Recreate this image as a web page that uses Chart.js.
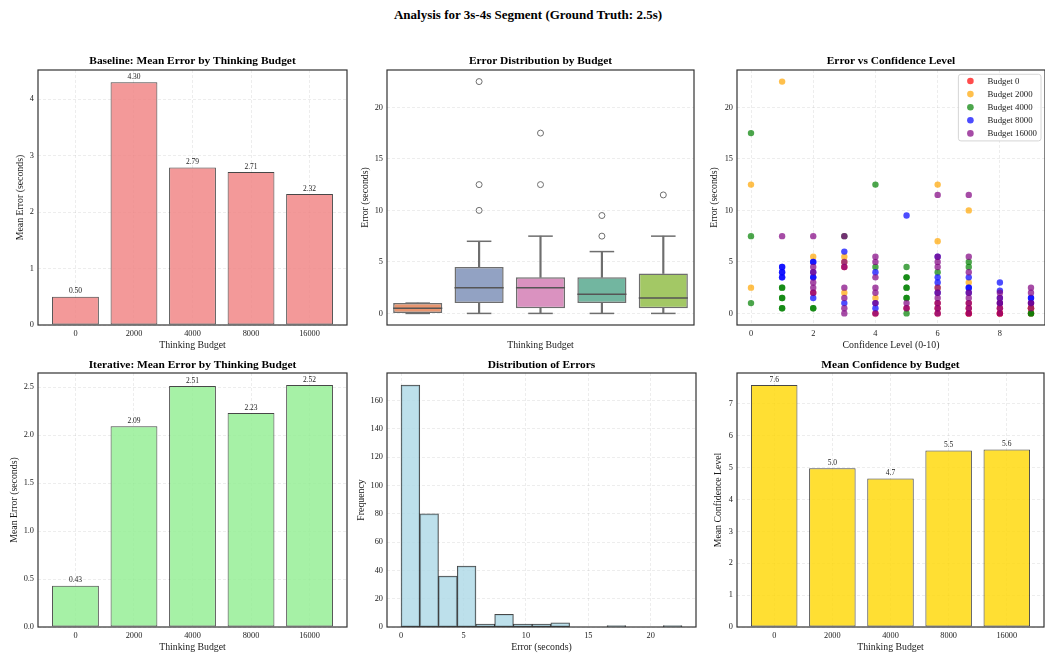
<!DOCTYPE html>
<html>
<head>
<meta charset="utf-8">
<title>Analysis for 3s-4s Segment</title>
<script src="https://cdn.jsdelivr.net/npm/chart.js@4.4.1/dist/chart.umd.min.js"></script>
<style>
  html, body { margin: 0; padding: 0; background: #fff; overflow: hidden; }
  #figure { position: relative; width: 1045px; height: 658px; overflow: hidden; background: #fff; }
  #figure canvas { position: absolute; }
  #suptitle {
    position: absolute; left: 0; width: 1056px; top: 7px; line-height: 17px;
    text-align: center; color: #000;
    font: bold 13px "Liberation Serif", "Times New Roman", Times, serif;
  }
</style>
</head>
<body>
<div id="figure"><div id="suptitle">Analysis for 3s-4s Segment (Ground Truth: 2.5s)</div></div>
<script>
// ---------- data ----------
const budgets = ['0', '2000', '4000', '8000', '16000'];

const baselineMeanError = [0.50, 4.30, 2.79, 2.71, 2.32];
const iterativeMeanError = [0.43, 2.09, 2.51, 2.23, 2.52];
const meanConfidence = [7.59, 4.98, 4.66, 5.54, 5.57];

// box plot summaries per budget
const boxWhiskerLow  = [0, 0, 0, 0, 0];
const boxQ1          = [0, 1.0, 0.5, 1.0, 0.5];
const boxMedian      = [0.5, 2.5, 2.5, 1.85, 1.5];
const boxQ3          = [1.0, 4.5, 3.5, 3.5, 3.875];
const boxWhiskerHigh = [1.0, 7.0, 7.5, 6.0, 7.5];
const boxOutliers    = [[], [10.0, 12.5, 22.5], [12.5, 17.5], [7.5, 9.5], [11.5]];

// histogram of all errors
const histBinEdges = [0, 1.5, 3, 4.5, 6, 7.5, 9, 10.5, 12, 13.5, 15, 16.5, 18, 19.5, 21, 22.5];
const histCounts   = [171, 80, 36, 43, 2, 9, 2, 2, 3, 0, 0, 1, 0, 0, 1];

// [confidence, error] pairs per budget
const scatterBudget0 = [[7,0],[7,0.5],[7,1.0],[8,0],[8,0.5],[8,1.0],[9,0],[9,0.5],[9,1.0],
  [6,0],[6,0.5],[6,1.0],[8,0],[7,0],[9,0.5],[4,0],[5,0.5],[3,4.5],[2,2.0]];
const scatterBudget2000 = [[0,12.5],[0,2.5],[1,22.5],[2,5.5],[3,5.5],[3,2.0],[4,1.5],[6,12.5],
  [6,7.0],[7,10.0],[7,3.0],[9,0.5],[3,5.0],[6,2.5]];
const scatterBudget4000 = [[0,17.5],[0,7.5],[0,1.0],[1,2.5],[1,2.5],[1,1.5],[1,1.5],[1,0.5],[1,0.5],
  [2,0.5],[2,0.5],[3,7.5],[4,12.5],[4,4.5],[5,4.5],[5,3.5],[5,3.5],[5,2.5],[5,2.5],[5,1.5],[5,1.5],
  [5,0],[6,4.0],[7,5.0],[7,4.5],[9,0],[9,0]];
const scatterBudget8000 = [[1,4.5],[1,4.5],[1,4.0],[1,4.0],[1,3.5],[1,3.5],[2,5.0],[2,5.0],[2,4.0],
  [2,3.5],[2,3.5],[2,1.5],[3,6.0],[3,1.0],[4,4.0],[4,1.0],[4,0.5],[5,9.5],[6,5.5],[6,3.5],[6,3.0],
  [6,2.0],[7,3.5],[7,2.5],[7,2.5],[7,2.0],[8,3.0],[8,2.2],[8,1.5],[8,1.0],[9,1.5],[9,1.0],[9,1.5]];
const scatterBudget16000 = [[1,7.5],[2,7.5],[2,4.5],[2,4.0],[2,3.0],[2,2.5],[2,2.0],[3,7.5],[3,5.0],
  [3,4.5],[3,2.5],[3,1.5],[3,0.5],[3,0],[4,5.5],[4,5.0],[4,3.5],[4,2.5],[4,2.0],[4,1.0],[4,0],
  [5,1.0],[5,0.5],[6,11.5],[6,5.5],[6,5.0],[6,4.5],[6,2.5],[6,2.0],[6,1.5],[6,1.0],[6,0.5],[6,0],
  [7,11.5],[7,5.5],[7,4.0],[7,2.0],[7,1.5],[7,1.0],[7,0.5],[7,0],[8,2.0],[8,1.5],[8,1.0],[8,0.5],
  [8,0],[9,2.5],[9,2.0],[9,1.0],[9,0.5]];

// ---------- styling ----------
const FONT_FAMILY = '"Liberation Serif", "Times New Roman", Times, serif';
const TEXT = '#1a1a1a';
const TICK_FONT = { family: FONT_FAMILY, size: 8.3 };
const LABEL_FONT = { family: FONT_FAMILY, size: 9.8 };
const TITLE_FONT = { family: FONT_FAMILY, size: 11.4, weight: 'bold' };
const LABEL_LH = LABEL_FONT.size * 1.2;
const TITLE_LH = TITLE_FONT.size * 1.2;
const GRID = 'rgba(150,150,150,0.22)';
const BOX_FILLS = ['#e9956f', '#92a2c3', '#da92c0', '#72b6a0', '#a3c865'];
const BOX_EDGE = '#6e6e6e';
const MEDIAN_EDGE = '#555555';
const SCATTER_COLORS = ['rgba(255,0,0,0.7)', 'rgba(255,165,0,0.7)', 'rgba(0,128,0,0.7)',
  'rgba(0,0,255,0.7)', 'rgba(128,0,128,0.7)'];

Chart.defaults.font.family = FONT_FAMILY;
Chart.defaults.color = TEXT;

// ---------- plugins ----------
const spines = {
  id: 'spines',
  afterDraw(chart) {
    const { ctx, chartArea: a } = chart;
    ctx.save();
    ctx.strokeStyle = '#333';
    ctx.lineWidth = 1.2;
    ctx.strokeRect(a.left, a.top, a.right - a.left, a.bottom - a.top);
    ctx.restore();
  }
};

const valueLabels = {
  id: 'valueLabels',
  afterDatasetsDraw(chart, args, opts) {
    if (!opts || typeof opts.format !== 'function') return;
    const meta = chart.getDatasetMeta(0);
    const values = chart.data.datasets[0].data;
    const ctx = chart.ctx;
    ctx.save();
    ctx.font = `${opts.size || 7}px ${FONT_FAMILY}`;
    ctx.fillStyle = TEXT;
    ctx.textAlign = 'center';
    ctx.textBaseline = 'bottom';
    meta.data.forEach((bar, i) => {
      ctx.fillText(opts.format(values[i].y), bar.x, bar.y - 1.5);
    });
    ctx.restore();
  }
};

const cornerLegend = {
  id: 'cornerLegend',
  afterDraw(chart) {
    const { ctx, chartArea: a } = chart;
    const sets = chart.data.datasets;
    ctx.save();
    ctx.font = `8.8px ${FONT_FAMILY}`;
    const maxW = Math.max(...sets.map(d => ctx.measureText(d.label).width));
    const rowH = 13.1;
    const right = a.right - 4, top = a.top + 4.3;
    const w = 29 + maxW + 4, h = 6.7 + rowH * (sets.length - 1) + 7.5;
    const left = right - w;
    ctx.beginPath();
    if (ctx.roundRect) ctx.roundRect(left, top, w, h, 2.5); else ctx.rect(left, top, w, h);
    ctx.fillStyle = 'rgba(255,255,255,0.8)';
    ctx.fill();
    ctx.strokeStyle = '#cccccc';
    ctx.lineWidth = 0.8;
    ctx.stroke();
    ctx.textAlign = 'left';
    ctx.textBaseline = 'middle';
    sets.forEach((d, i) => {
      const y = top + 6.7 + rowH * i;
      ctx.beginPath();
      ctx.arc(left + 12, y, 3.3, 0, Math.PI * 2);
      ctx.fillStyle = d.backgroundColor;
      ctx.fill();
      ctx.fillStyle = TEXT;
      ctx.fillText(d.label, left + 29, y + 0.5);
    });
    ctx.restore();
  }
};

// ---------- helpers ----------
const fig = document.getElementById('figure');

function gridOpts(show) {
  return { display: show, color: GRID, lineWidth: 0.8, drawTicks: false, offset: false };
}
function borderOpts() {
  return { display: false, dash: [3, 2] };
}
function linearAxis(min, max, step, callback, showGrid = true) {
  return {
    type: 'linear', min, max, offset: false,
    grid: gridOpts(showGrid), border: borderOpts(),
    ticks: { stepSize: step, includeBounds: false, font: TICK_FONT, color: TEXT,
             padding: 4, maxRotation: 0, autoSkip: false, callback }
  };
}
const budgetTick = v => (Number.isInteger(v) && budgets[v] !== undefined) ? budgets[v] : '';

function addPanel(p) {
  const cl = p.area.l - 38;
  const ct = p.area.t - 22;
  const cr = p.area.r + 2;
  const cb = Math.ceil(p.xTitleY + LABEL_LH / 2);
  const canvas = document.createElement('canvas');
  canvas.width = cr - cl;
  canvas.height = cb - ct;
  canvas.style.left = cl + 'px';
  canvas.style.top = ct + 'px';
  fig.appendChild(canvas);

  const titlePadTop = p.titleY - ct - TITLE_LH / 2;
  const titlePadBottom = (p.area.t - ct) - titlePadTop - TITLE_LH;
  const xAxisH = cb - p.area.b;
  const yAxisW = p.area.l - cl;

  p.x.afterFit = s => { s.height = xAxisH; };
  p.y.afterFit = s => { s.width = yAxisW; };
  p.x.title = { display: true, text: p.xTitle, font: LABEL_FONT, color: TEXT,
                padding: { top: 0, bottom: cb - p.xTitleY - LABEL_LH / 2 } };
  p.y.title = { display: true, text: p.yTitle, font: LABEL_FONT, color: TEXT,
                padding: { top: p.yTitleX - cl - LABEL_LH / 2, bottom: 0 } };

  return new Chart(canvas, {
    type: p.type,
    data: { datasets: p.datasets },
    options: {
      responsive: false,
      animation: false,
      events: [],
      layout: { padding: { left: 0, top: 0, bottom: 0, right: cr - p.area.r }, autoPadding: false },
      scales: { x: p.x, y: p.y },
      plugins: {
        legend: { display: false },
        tooltip: { enabled: false },
        title: { display: true, text: p.title, font: TITLE_FONT, color: '#000', fullSize: false,
                 padding: { top: titlePadTop, bottom: titlePadBottom } },
        valueLabels: p.valueLabels || {}
      }
    },
    plugins: [spines, valueLabels].concat(p.extraPlugins || [])
  });
}

function meanBars(values, fill) {
  return [{
    type: 'bar',
    data: values.map((v, i) => ({ x: i, y: v })),
    backgroundColor: fill,
    borderColor: 'rgba(0,0,0,0.72)',
    borderWidth: 1,
    borderSkipped: false,
    barPercentage: 0.8,
    categoryPercentage: 1
  }];
}

// box width fraction (in category units) converted to pixels
function boxHalf(ctx, frac) {
  const s = ctx.chart.scales.x;
  const r = s ? s.getPixelForValue(frac) - s.getPixelForValue(0) : NaN;
  return isFinite(r) && r > 0 ? r : 1;
}

// ---------- panel 1: baseline mean error ----------
addPanel({
  area: { l: 38, t: 70, r: 347, b: 325 }, titleY: 61, yTitleX: 20, xTitleY: 345,
  title: 'Baseline: Mean Error by Thinking Budget',
  xTitle: 'Thinking Budget', yTitle: 'Mean Error (seconds)',
  type: 'bar',
  datasets: meanBars(baselineMeanError, 'rgba(240,128,128,0.8)'),
  x: linearAxis(-0.64, 4.64, 1, budgetTick),
  y: linearAxis(0, 4.515, 1, v => String(v)),
  valueLabels: { format: v => v.toFixed(2), size: 7.5 }
});

// ---------- panel 2: error distribution (box plot) ----------
const boxDatasets = [
  { // medians
    type: 'scatter',
    data: budgets.map((_, i) => ({ x: i, y: boxMedian[i] })),
    pointStyle: 'line',
    pointRadius: ctx => boxHalf(ctx, 0.4),
    pointBorderColor: MEDIAN_EDGE,
    pointBorderWidth: 1.5
  },
  { // boxes
    type: 'bar',
    data: budgets.map((_, i) => ({ x: i, y: [boxQ1[i], boxQ3[i]] })),
    backgroundColor: BOX_FILLS,
    borderColor: BOX_EDGE,
    borderWidth: 1.5,
    borderSkipped: false,
    barPercentage: 0.8,
    categoryPercentage: 1,
    grouped: false
  },
  { // lower whiskers
    type: 'bar',
    data: budgets.map((_, i) => ({ x: i, y: [boxWhiskerLow[i], boxQ1[i]] })),
    backgroundColor: BOX_EDGE,
    borderWidth: 0,
    barThickness: 1.5,
    grouped: false
  },
  { // upper whiskers
    type: 'bar',
    data: budgets.map((_, i) => ({ x: i, y: [boxQ3[i], boxWhiskerHigh[i]] })),
    backgroundColor: BOX_EDGE,
    borderWidth: 0,
    barThickness: 1.5,
    grouped: false
  },
  { // whisker caps
    type: 'scatter',
    data: budgets.map((_, i) => ({ x: i, y: boxWhiskerLow[i] }))
      .concat(budgets.map((_, i) => ({ x: i, y: boxWhiskerHigh[i] }))),
    pointStyle: 'line',
    pointRadius: ctx => boxHalf(ctx, 0.2),
    pointBorderColor: BOX_EDGE,
    pointBorderWidth: 1.5
  },
  { // outliers
    type: 'scatter',
    data: boxOutliers.flatMap((list, i) => list.map(v => ({ x: i, y: v }))),
    pointStyle: 'circle',
    pointRadius: 3,
    pointBackgroundColor: 'rgba(255,255,255,0)',
    pointBorderColor: BOX_EDGE,
    pointBorderWidth: 1
  }
];
addPanel({
  area: { l: 387, t: 70, r: 696, b: 325 }, titleY: 61, yTitleX: 365, xTitleY: 345,
  title: 'Error Distribution by Budget',
  xTitle: 'Thinking Budget', yTitle: 'Error (seconds)',
  type: 'bar',
  datasets: boxDatasets,
  x: linearAxis(-0.5, 4.5, 1, budgetTick, false),
  y: linearAxis(-1.125, 23.625, 5, v => String(v))
});

// ---------- panel 3: error vs confidence ----------
// later budgets are painted over earlier ones
const scatterSeries = [scatterBudget0, scatterBudget2000, scatterBudget4000, scatterBudget8000, scatterBudget16000];
addPanel({
  area: { l: 737, t: 70, r: 1045, b: 325 }, titleY: 61, yTitleX: 714, xTitleY: 345,
  title: 'Error vs Confidence Level',
  xTitle: 'Confidence Level (0-10)', yTitle: 'Error (seconds)',
  type: 'scatter',
  datasets: scatterSeries.map((pts, k) => ({
    type: 'scatter',
    label: 'Budget ' + budgets[k],
    order: scatterSeries.length - k,
    data: pts.map(([c, e]) => ({ x: c, y: e })),
    backgroundColor: SCATTER_COLORS[k],
    pointBackgroundColor: SCATTER_COLORS[k],
    pointBorderWidth: 0,
    pointRadius: 3.2
  })),
  x: linearAxis(-0.45, 9.45, 2, v => String(v)),
  y: linearAxis(-1.125, 23.625, 5, v => String(v)),
  extraPlugins: [cornerLegend]
});

// ---------- panel 4: iterative mean error ----------
addPanel({
  area: { l: 38, t: 373, r: 347, b: 627 }, titleY: 365, yTitleX: 14, xTitleY: 647,
  title: 'Iterative: Mean Error by Thinking Budget',
  xTitle: 'Thinking Budget', yTitle: 'Mean Error (seconds)',
  type: 'bar',
  datasets: meanBars(iterativeMeanError, 'rgba(144,238,144,0.8)'),
  x: linearAxis(-0.64, 4.64, 1, budgetTick),
  y: linearAxis(0, 2.646, 0.5, v => v.toFixed(1)),
  valueLabels: { format: v => v.toFixed(2), size: 7.5 }
});

// ---------- panel 5: histogram of errors ----------
addPanel({
  area: { l: 387, t: 373, r: 696, b: 627 }, titleY: 365, yTitleX: 361, xTitleY: 647,
  title: 'Distribution of Errors',
  xTitle: 'Error (seconds)', yTitle: 'Frequency',
  type: 'bar',
  datasets: [{
    type: 'bar',
    data: histCounts.map((c, i) => ({ x: (histBinEdges[i] + histBinEdges[i + 1]) / 2, y: c })),
    backgroundColor: 'rgba(173,216,230,0.8)',
    borderColor: 'rgba(0,0,0,0.72)',
    borderWidth: 1,
    borderSkipped: false,
    barPercentage: 1,
    categoryPercentage: 1
  }],
  x: linearAxis(-1.125, 23.625, 5, v => String(v)),
  y: linearAxis(0, 179.55, 20, v => String(v))
});

// ---------- panel 6: mean confidence ----------
addPanel({
  area: { l: 737, t: 373, r: 1044, b: 627 }, titleY: 365, yTitleX: 718, xTitleY: 647,
  title: 'Mean Confidence by Budget',
  xTitle: 'Thinking Budget', yTitle: 'Mean Confidence Level',
  type: 'bar',
  datasets: meanBars(meanConfidence, 'rgba(255,215,0,0.8)'),
  x: linearAxis(-0.64, 4.64, 1, budgetTick),
  y: linearAxis(0, 7.97, 1, v => String(v)),
  valueLabels: { format: v => v.toFixed(1), size: 7.5 }
});
</script>
</body>
</html>
